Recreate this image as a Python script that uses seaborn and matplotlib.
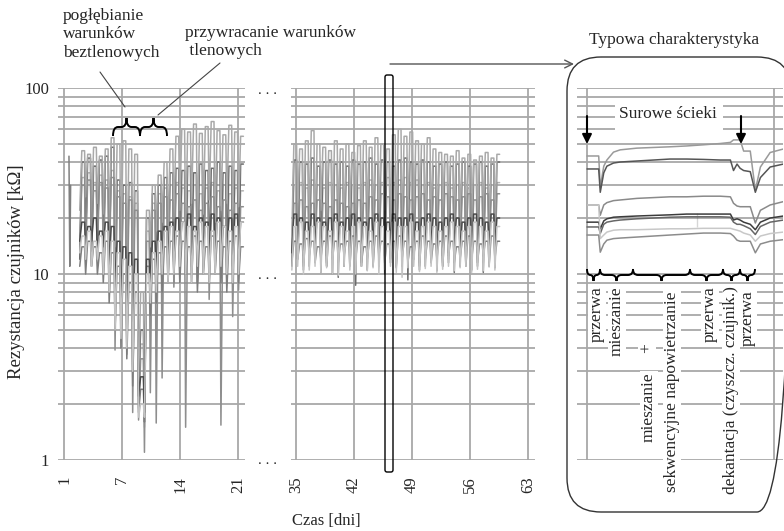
import numpy as np
import pandas as pd
import seaborn as sns
import matplotlib.pyplot as plt
from matplotlib.path import Path
from matplotlib.patches import PathPatch, FancyBboxPatch, Rectangle
from matplotlib.ticker import NullFormatter

# ---------------- dane ----------------
# dni 1-21: poczatek pierwszego cyklu i dlugosc cyklu [d]
left_start, left_period = 1.9, 0.71
# poziom "plateau" i minimum (dołek) w kazdym cyklu, kOhm
left_s1_plat = [46, 44, 48, 43, 47, 54, 50, 52, 47, 44, 8, 22, 30, 34, 40, 47, 55, 60, 58, 64, 57, 62, 66, 59, 56, 63, 58, 55]
left_s1_dip = [22, 26, 20, 24, 21, 18, 14, 11, 9, 7, 2.5, 1.9, 14, 17, 19, 16, 20, 22, 18, 24, 17, 21, 25, 19, 22, 24, 20, 23]
left_s2_plat = [40, 42, 38, 41, 43, 48, 32, 30, 31, 28, 5, 20, 27, 30, 33, 35, 37, 36, 38, 35, 39, 36, 37, 40, 35, 38, 36, 39]
left_s2_dip = [12, 15, 11, 14, 12, 9, 7, 6, 5, 4, 2.4, 2.0, 8, 7, 9, 10, 9, 11, 10, 12, 9, 11, 10, 12, 10, 11, 9, 10]
left_s3_plat = [30, 32, 28, 31, 29, 33, 26, 24, 25, 22, 3.5, 15, 22, 24, 26, 25, 27, 24, 23, 25, 22, 24, 26, 23, 25, 22, 24, 23]
left_s3_dip = [14, 12, 15, 13, 11, 10, 3.9, 5.0, 3.7, 1.8, 1.64, 1.1, 2.3, 1.58, 2.76, 9, 8.5, 10, 1.5, 11, 9, 10, 7.3, 10, 1.54, 10, 5.9, 8.2]
left_s4_plat = [19, 18, 20, 17, 19, 18, 15, 14, 13, 12, 2.8, 12, 15, 17, 18, 19, 20, 19, 21, 18, 20, 19, 21, 20, 18, 20, 21, 19]
left_s4_dip = [15, 14, 15, 13, 14, 11, 8, 7, 6, 5, 2.2, 1.8, 9, 10, 11, 12, 11, 12, 13, 12, 11, 13, 12, 11, 12, 13, 11, 12]
left_s5_plat = [16, 17, 15, 16, 17, 15, 13, 12, 11, 10, 2.0, 10, 13, 15, 17, 18, 17, 19, 18, 17, 19, 18, 17, 19, 18, 17, 18, 19]
left_s5_dip = [13, 12, 11, 12, 10, 8, 5, 4.5, 4, 3, 1.7, 1.7, 7, 8, 10, 9, 10, 11, 10, 9, 11, 10, 9, 10, 11, 10, 9, 10]
left_s6_plat = [14, 15, 14, 13, 15, 13, 11, 10, 9, 8, 2.4, 11, 12, 13, 14, 15, 16, 15, 14, 16, 15, 14, 16, 15, 14, 15, 16, 14]
left_s6_dip = [11, 10, 11, 10, 9, 7, 5, 4, 3.5, 2.5, 1.8, 1.6, 6, 7, 8, 9, 10, 9, 10, 9, 8, 10, 9, 10, 9, 8, 10, 9]
left_s7_plat = [33, 35, 31, 34, 32, 36, 28, 27, 26, 24, 4.2, 17, 24, 27, 29, 30, 31, 29, 28, 30, 27, 29, 31, 28, 30, 27, 29, 28]
left_s7_dip = [16, 17, 15, 16, 14, 12, 6, 5.5, 4.5, 3.2, 1.9, 1.5, 9, 10, 11, 12, 11, 13, 12, 11, 13, 12, 11, 12, 13, 12, 11, 12]
# krotki fragment na samym poczatku pomiarow
early_days = [0.6, 0.7, 0.8]
early_vals = [43, 11, 30]

# dni 35-63
mid_start, mid_period = 34.5, 0.70
mid_s1_plat = [50, 47, 52, 59, 50, 48, 46, 52, 47, 50, 45, 49, 52, 48, 54, 50, 47, 56, 60, 55, 58, 52, 50, 54, 47, 45, 44, 43, 46, 42, 44, 41, 43, 45, 42, 44]
mid_s1_dip = [16, 20, 14, 18, 15, 22, 17, 13, 19, 15, 21, 16, 14, 19, 15, 18, 22, 13, 17, 15, 19, 16, 20, 14, 18, 15, 19, 15, 17, 19, 14, 18, 16, 20, 15, 18]
mid_s2_plat = [41, 40, 39, 42, 38, 40, 41, 39, 40, 38, 41, 39, 40, 42, 39, 41, 40, 38, 41, 42, 40, 39, 41, 40, 38, 39, 40, 38, 39, 40, 38, 39, 40, 38, 39, 40]
mid_s2_dip = [11, 12, 10.5, 11, 12, 10.2, 11, 10, 9.6, 11, 12, 8.7, 11, 10.5, 12, 11, 10, 11.5, 10.8, 11, 9.3, 12, 10.5, 11, 12, 10.4, 11, 11.5, 10.2, 11, 12, 10.5, 11, 10.2, 11.5, 10.8]
mid_s3_plat = [24, 25, 23, 24, 25, 24, 23, 25, 24, 23, 24, 25, 24, 26, 25, 27, 26, 25, 27, 26, 25, 26, 27, 25, 26, 25, 27, 26, 25, 26, 27, 25, 26, 27, 25, 27]
mid_s3_dip = [12, 13, 11.5, 12.5, 13, 12, 11.5, 13, 12, 11.5, 12, 13, 11, 12, 13, 11.5, 12, 13, 12, 11.5, 13, 12, 11.5, 13, 12, 13, 11.5, 12, 13, 12, 11.5, 13, 12, 11.5, 13, 12]
mid_s4_plat = [21, 20, 19, 21, 20, 19, 20, 21, 19, 20, 21, 20, 19, 20, 21, 20, 19, 21, 20, 20, 21, 19, 20, 21, 20, 19, 20, 21, 20, 19, 20, 21, 20, 19, 21, 20]
mid_s4_dip = [13, 14, 12.5, 13, 14, 13, 12.5, 13, 14, 12.5, 13, 14, 13, 12.5, 14, 13, 12.5, 14, 13, 12.5, 14, 13, 12.5, 13, 14, 13, 12.5, 13, 14, 13, 12.5, 14, 13, 12.5, 13, 14]
mid_s5_plat = [18, 19, 17, 18, 19, 18, 17, 19, 18, 17, 18, 19, 18, 17, 19, 18, 17, 19, 18, 18, 19, 17, 18, 19, 18, 17, 18, 19, 18, 17, 18, 19, 18, 17, 19, 18]
mid_s5_dip = [10.5, 11, 10, 10.5, 11, 10.2, 10.8, 10, 9.8, 11, 10.5, 10, 11, 10.4, 10.8, 10, 10.6, 11, 10.2, 9.6, 10.8, 11, 10.3, 10.7, 11, 10.2, 10.6, 11, 10.4, 10.8, 11, 10.2, 10.6, 10.4, 10.9, 10.5]
mid_s6_plat = [15, 14.5, 15.5, 15, 14, 15, 16, 15, 14.5, 15, 16, 15, 14, 15, 16, 15, 14.5, 15, 16, 15, 14, 15, 16, 15, 14.5, 15, 16, 15, 14, 15, 16, 15, 14.5, 15, 16, 15]
mid_s6_dip = [11.5, 12, 11, 12.5, 11.5, 12, 11, 12, 11.5, 12.5, 11, 12, 11.5, 12, 11, 12.5, 11.5, 12, 11, 12, 11.5, 12.5, 11, 12, 11.5, 12, 11, 12.5, 11.5, 12, 11, 12, 11.5, 12.5, 11, 12]
mid_s7_plat = [30, 31, 29, 32, 30, 29, 31, 30, 29, 31, 30, 29, 31, 32, 30, 31, 33, 31, 32, 33, 31, 32, 30, 31, 29, 30, 31, 29, 30, 31, 29, 30, 31, 29, 30, 31]
mid_s7_dip = [13, 14, 12.5, 13.5, 14, 13, 12.5, 14, 13, 12.5, 13, 14, 12, 13, 14, 12.5, 13, 14, 13, 12.5, 14, 13, 12.5, 14, 13, 14, 12.5, 13, 14, 13, 12.5, 14, 13, 12.5, 14, 13]

# typowy cykl (wstawka), czas [min]
inset_t = [0, 30, 34, 43, 51, 68, 85, 128, 213, 256, 299, 342, 368, 376, 385, 393, 402, 419, 432, 445, 470, 504]
inset_i1 = [43.1, 43.1, 29.3, 38, 41, 45.2, 46.5, 47.5, 48.3, 48.8, 49.5, 50.3, 51, 52.6, 52.6, 52.6, 45.8, 45.8, 28.2, 37.6, 45, 47]
inset_i2 = [36.7, 36.7, 27.5, 35, 38, 39.5, 40, 40.5, 41.5, 41.5, 41.3, 41, 41, 36, 39, 37, 36, 35.5, 27.5, 33, 37.6, 39]
inset_i3 = [23.5, 23.5, 20.7, 23.5, 24.2, 24.8, 25, 25.5, 26, 26, 26.2, 26.2, 26, 24, 23.2, 23, 23, 23, 18.8, 22, 23.5, 24.5]
inset_i4 = [19, 19, 17.5, 19.3, 19.8, 20.2, 20.3, 20.5, 20.8, 21, 21, 21, 21, 19.5, 19.8, 19.5, 19, 18.5, 17.3, 19, 20, 20.5]
inset_i5 = [17.9, 17.9, 16.5, 18.5, 19, 19.3, 19.5, 19.8, 20.2, 20.3, 20.3, 20.3, 20.2, 19, 18.5, 18.5, 18.2, 17.5, 16.3, 18, 19, 19.5]
inset_i6 = [23.5, 23.5, 15.5, 16.2, 16.8, 17.2, 17.3, 17.3, 17.5, 17.5, 17.6, 17.6, 17.6, 17.4, 17.2, 17.0, 16.6, 16.2, 15.0, 16.0, 16.5, 16.8]
inset_i7 = [16.2, 16.2, 13.1, 14.5, 15.2, 15.5, 15.6, 15.8, 16.2, 16.4, 16.6, 16.6, 16.5, 16.0, 15.2, 15.0, 15.0, 15.0, 13.0, 14.5, 15.0, 15.3]
inset_mark_t = [282, 282]
inset_mark_v = [18.0, 21.2]

left_ticks, left_labels = [0, 7, 14, 21], ['1', '7', '14', '21']
mid_ticks, mid_labels = [35, 42, 49, 56, 63], ['35', '42', '49', '56', '63']

# ---------------- tabele dla seaborn ----------------
left_plat = {'S1': left_s1_plat, 'S2': left_s2_plat, 'S3': left_s3_plat, 'S4': left_s4_plat,
             'S5': left_s5_plat, 'S6': left_s6_plat, 'S7': left_s7_plat}
left_dip = {'S1': left_s1_dip, 'S2': left_s2_dip, 'S3': left_s3_dip, 'S4': left_s4_dip,
            'S5': left_s5_dip, 'S6': left_s6_dip, 'S7': left_s7_dip}
mid_plat = {'S1': mid_s1_plat, 'S2': mid_s2_plat, 'S3': mid_s3_plat, 'S4': mid_s4_plat,
            'S5': mid_s5_plat, 'S6': mid_s6_plat, 'S7': mid_s7_plat}
mid_dip = {'S1': mid_s1_dip, 'S2': mid_s2_dip, 'S3': mid_s3_dip, 'S4': mid_s4_dip,
           'S5': mid_s5_dip, 'S6': mid_s6_dip, 'S7': mid_s7_dip}


def cycles_frame(start, period, plats, dips):
    # dołek na poczatku cyklu, powolny powrot do plateau
    rows = []
    for name, plat in plats.items():
        for i, (p, d) in enumerate(zip(plat, dips[name])):
            t = start + i * period
            rows += [(t, d, name), (t + 0.35 * period, p, name), (t + 0.82 * period, p, name)]
    return pd.DataFrame(rows, columns=['dzien', 'R', 'czujnik'])


df_left = cycles_frame(left_start, left_period, left_plat, left_dip)
df_mid = cycles_frame(mid_start, mid_period, mid_plat, mid_dip)
inset_names = ['I1', 'I2', 'I3', 'I4', 'I5', 'I6', 'I7']
df_inset = pd.DataFrame({'t': inset_t * len(inset_names),
                         'R': inset_i1 + inset_i2 + inset_i3 + inset_i4 + inset_i5 + inset_i6 + inset_i7,
                         'czujnik': [k for k in inset_names for _ in inset_t]})

sensor_colors = {'S1': '#a9a9a9', 'S2': '#6b6b6b', 'S3': '#8e8e8e', 'S4': '#4a4a4a',
                 'S5': '#c4c4c4', 'S6': '#7d7d7d', 'S7': '#b3b3b3'}
draw_order = ['S7', 'S2', 'S1', 'S3', 'S6', 'S4', 'S5']
inset_colors = {'I1': '#9a9a9a', 'I2': '#555555', 'I3': '#8a8a8a', 'I4': '#3c3c3c',
                'I5': '#666666', 'I6': '#c8c8c8', 'I7': '#8c8c8c'}

# ---------------- rysunek ----------------
sns.set_style('white')
plt.rcParams['font.family'] = ['Liberation Serif', 'DejaVu Serif']
GRID = '#a8a8a8'
W, H = 784, 531

fig = plt.figure(figsize=(7.84, 5.31), dpi=100)


def frame(x0, x1, y0=88, y1=460):
    return [x0 / W, 1 - y1 / H, (x1 - x0) / W, (y1 - y0) / H]


ax_l = fig.add_axes(frame(58, 245))
ax_m = fig.add_axes(frame(291, 535))
ax_i = fig.add_axes(frame(577, 783))

sns.lineplot(data=df_left, x='dzien', y='R', hue='czujnik', hue_order=draw_order,
             palette=sensor_colors, estimator=None, sort=False, legend=False, lw=1.1, ax=ax_l)
sns.lineplot(x=early_days, y=early_vals, color='#808080', lw=1.1, ax=ax_l)
sns.lineplot(data=df_mid, x='dzien', y='R', hue='czujnik', hue_order=draw_order,
             palette=sensor_colors, estimator=None, sort=False, legend=False, lw=1.1, ax=ax_m)
sns.lineplot(data=df_inset, x='t', y='R', hue='czujnik', palette=inset_colors,
             estimator=None, sort=False, legend=False, lw=1.1, ax=ax_i)
sns.lineplot(x=inset_mark_t, y=inset_mark_v, color='#333333', lw=1.1, ax=ax_i)


def style_axis(ax, xlim, xticks, xlabels, ylabels):
    ax.set_yscale('log')
    ax.set_ylim(1, 100)
    ax.set_xlim(*xlim)
    ax.set_xticks(xticks)
    ax.set_xticklabels(xlabels, rotation=90)
    ax.set_yticks([1, 10, 100])
    ax.set_yticklabels(['1', '10', '100'] if ylabels else [])
    ax.yaxis.set_minor_formatter(NullFormatter())
    ax.grid(True, axis='x', which='major', color=GRID, lw=1.3)
    ax.grid(True, axis='y', which='both', color=GRID, lw=1.3)
    ax.tick_params(axis='x', length=3.6, width=1.3, color=GRID, pad=8, labelsize=12)
    ax.tick_params(axis='y', which='both', length=0, pad=6.5, labelsize=12)
    for s in ax.spines.values():
        s.set_visible(False)
    ax.set_xlabel('')
    ax.set_ylabel('')
    ax.set_axisbelow(True)


style_axis(ax_l, (-0.724, 21.845), left_ticks, left_labels, True)
style_axis(ax_m, (34.40, 63.84), mid_ticks, mid_labels, False)
style_axis(ax_i, (-25.7, 503), [0, 480], ['', ''], False)

# warstwa opisow w pikselach
ov = fig.add_axes([0, 0, 1, 1], zorder=10)
ov.set_xlim(0, W)
ov.set_ylim(H, 0)
ov.axis('off')


def brace(ax, x0, x1, y_end, y_body, y_tip):
    xm = (x0 + x1) / 2
    r = min(5, (x1 - x0) / 4)
    verts = [(x0, y_end), (x0, y_body), (x0 + r, y_body),
             (xm - r, y_body), (xm, y_body), (xm, y_tip),
             (xm, y_body), (xm + r, y_body),
             (x1 - r, y_body), (x1, y_body), (x1, y_end)]
    codes = [Path.MOVETO, Path.CURVE3, Path.CURVE3,
             Path.LINETO, Path.CURVE3, Path.CURVE3,
             Path.CURVE3, Path.CURVE3,
             Path.LINETO, Path.CURVE3, Path.CURVE3]
    ax.add_patch(PathPatch(Path(verts, codes), fc='none', ec='black', lw=1.4))


fs = 12.5
ov.text(63, 8, 'pogłębianie\nwarunków\nbeztlenowych', ha='left', va='top', fontsize=fs)
ov.text(185, 25, 'przywracanie warunków\n tlenowych', ha='left', va='top', fontsize=fs)
ov.plot([100, 125], [72, 107], color='#444444', lw=0.8)
ov.plot([220, 158], [63, 115], color='#444444', lw=0.8)
brace(ov, 113, 140, 136, 127, 118)
brace(ov, 140, 167, 136, 127, 118)

for y in [94, 279, 464]:
    ov.text(268, y, '. . .', ha='center', va='baseline', fontsize=11)

ov.text(17, 272, 'Rezystancja czujników [kΩ]', rotation=90, ha='center', va='center', fontsize=13.5)
ov.text(326, 521, 'Czas [dni]', ha='center', va='center', fontsize=12)

# wybrany cykl i strzalka do wstawki
ov.add_patch(FancyBboxPatch((385, 75), 8, 397, boxstyle='round,pad=0,rounding_size=2',
                            fc='none', ec='black', lw=1.0))
ov.annotate('', xy=(574, 64), xytext=(390, 64),
            arrowprops=dict(arrowstyle='->', color='#555555', lw=1.0,
                            shrinkA=0, shrinkB=0, mutation_scale=14))
ov.add_patch(FancyBboxPatch((567, 57), 224, 455, boxstyle='round,pad=0,rounding_size=34',
                            fc='none', ec='#333333', lw=1.0))
ov.text(674, 40, 'Typowa charakterystyka', ha='center', va='center', fontsize=fs)

ov.add_patch(Rectangle((615, 101), 108, 31, fc='white', ec='none'))
ov.text(668, 114, 'Surowe ścieki', ha='center', va='center', fontsize=fs)
for x in [587, 741]:
    ov.annotate('', xy=(x, 144), xytext=(x, 116),
                arrowprops=dict(arrowstyle='-|>', color='black', lw=1.5,
                                shrinkA=0, shrinkB=0, mutation_scale=14))

phase_bounds = [587, 600, 633, 690, 723, 740, 755]
for a, b in zip(phase_bounds[:-1], phase_bounds[1:]):
    brace(ov, a, b, 269, 275, 281)

box = dict(fc='white', ec='none', pad=0.5)
phase_labels = [(597, 286, 'przerwa', 'top'),
                (617, 286, 'mieszanie', 'top'),
                (647, 348, '+', 'center'),
                (649, 372, 'mieszanie', 'top'),
                (672, 292, 'sekwencyjne napowietrzanie', 'top'),
                (710, 286, 'przerwa', 'top'),
                (731, 286, 'dekantacja (czyszcz. czujnik.)', 'top'),
                (748, 290, 'przerwa', 'top')]
for x, y, s, va in phase_labels:
    ov.text(x, y, s, rotation=90, ha='center', va=va, fontsize=fs, bbox=box)

fig.savefig('out.png', dpi=100)
